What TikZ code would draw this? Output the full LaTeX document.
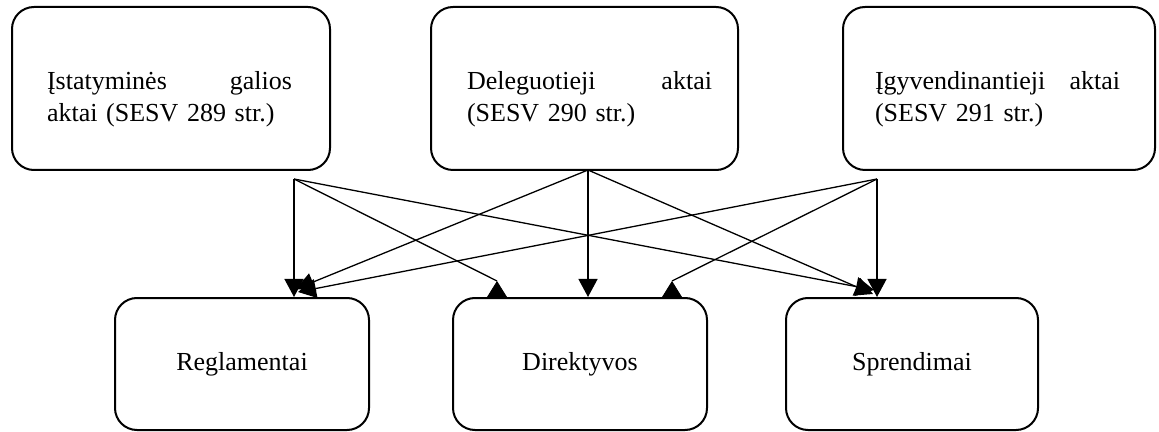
\documentclass[tikz,border=0pt]{standalone}
\usepackage{fontspec}
\setmainfont{Liberation Serif}
\usetikzlibrary{arrows.meta}
\tikzset{
  akt/.style={draw, line width=1pt, rounded corners=11pt, minimum height=81.5pt, inner sep=0pt},
  rusis/.style={draw, line width=1pt, rounded corners=11pt, minimum width=127pt, minimum height=66pt, inner sep=0pt, font=\fontsize{13pt}{16pt}\selectfont},
  tekstas/.style={anchor=base, text width=122.5pt, align=left, inner sep=0pt, font=\fontsize{13pt}{16pt}\selectfont},
  linija/.style={line width=0.65pt},
  rodykle/.style={linija, -{Triangle[length=9pt,width=9.5pt]}},
  atvirkscia/.style={-{Triangle[length=8.5pt,width=10.5pt]}}
}

\begin{document}
\begin{tikzpicture}[x=0.5pt,y=-0.5pt]
	\useasboundingbox (0,0) rectangle (1159,432);
	% virsutiniai langeliai
	\node[akt, minimum width=159pt] (ist) at (171,88.5) {};
	\node[akt, minimum width=153.5pt] (del) at (584.5,88.5) {};
	\node[akt, minimum width=156pt] (igy) at (999,88.5) {};
	\node[tekstas] (ist-t) at (169.5,90) {Įstatyminės\hfill galios\\aktai (SESV 289 str.)};
	\node[tekstas] (del-t) at (589.5,90) {Deleguotieji\hfill aktai\\(SESV 290 str.)};
	\node[tekstas] (igy-t) at (997.5,90) {Įgyvendinantieji\hfill aktai\\(SESV 291 str.)};
	% apatiniai langeliai
	\node[rusis] (reg) at (242,364) {Reglamentai};
	\node[rusis] (dir) at (580,364) {Direktyvos};
	\node[rusis, minimum width=126pt] (spr) at (912,364) {Sprendimai};
	% rodykliu pradzios ir galai
	\coordinate (ist-s) at (294,179);
	\coordinate (del-s) at (588,170);
	\coordinate (igy-s) at (877,179);
	\coordinate (reg-del) at (296,289);
	\coordinate (reg-igy) at (298,292);
	\coordinate (dir-ist) at (497,281);
	\coordinate (dir-igy) at (672,281);
	\coordinate (spr-ist) at (874,290);
	\coordinate (spr-del) at (873,294);
	% rodykles
	\draw[rodykle] (ist-s) -- (ist-s |- reg.north);
	\draw[rodykle] (del-s) -- (reg-del);
	\draw[rodykle] (igy-s) -- (reg-igy);
	\draw[linija] (ist-s) -- (dir-ist);
	\draw[atvirkscia] (dir-ist |- dir.north) -- (dir-ist);
	\draw[rodykle] (del-s) -- (del-s |- dir.north);
	\draw[linija] (igy-s) -- (dir-igy);
	\draw[atvirkscia] (dir-igy |- dir.north) -- (dir-igy);
	\draw[rodykle] (ist-s) -- (spr-ist);
	\draw[rodykle] (del-s) -- (spr-del);
	\draw[rodykle] (igy-s) -- (igy-s |- spr.north);
\end{tikzpicture}
\end{document}
